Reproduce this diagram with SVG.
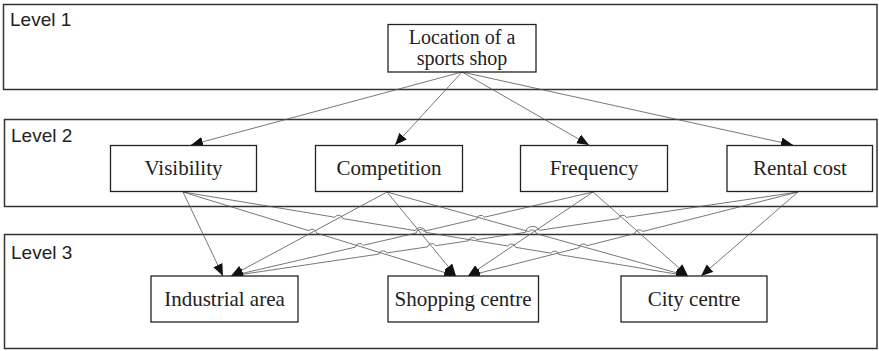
<svg xmlns="http://www.w3.org/2000/svg" width="879" height="351" viewBox="0 0 879 351">
<style>
.band{fill:#fff;stroke:#333;stroke-width:1.5}
.lvl{font-family:"Liberation Sans",Arial,sans-serif;font-size:19px;fill:#222}
.box{fill:#fff;stroke:#222;stroke-width:1.3}
.t{font-family:"Liberation Serif","Times New Roman",serif;font-size:21px;fill:#222;text-anchor:middle}
.t2{font-family:"Liberation Serif","Times New Roman",serif;font-size:20px;fill:#222;text-anchor:middle}
.c{fill:none;stroke:#555;stroke-width:0.8;marker-end:url(#ah)}
</style>
<defs>
<marker id="ah" markerUnits="userSpaceOnUse" markerWidth="12" markerHeight="10" refX="12" refY="5" orient="auto">
<path d="M0,0 L12,5 L0,10 z" fill="#111"/>
</marker>
</defs>
<g id="bands">
<g id="level1"><rect class="band" x="3.5" y="4.5" width="873.5" height="85"/><text class="lvl" x="10" y="26">Level 1</text></g>
<g id="level2"><rect class="band" x="4.5" y="119.5" width="872.5" height="87"/><text class="lvl" x="11" y="142">Level 2</text></g>
<g id="level3"><rect class="band" x="4.5" y="234.5" width="872.5" height="114"/><text class="lvl" x="11" y="259">Level 3</text></g>
</g>
<g id="connectors">
<path class="c" d="M462,72 L191,145"/>
<path class="c" d="M462,72 L395,145"/>
<path class="c" d="M462,72 L589,145"/>
<path class="c" d="M462,72 L793,145"/>
<path class="c" d="M183,192 L223,276"/>
<path class="c" d="M183,192 L308.98,230.72 A4.3,4.3 0 0 1 316.62,233.08 L456,276"/>
<path class="c" d="M183,192 L334.95,217.27 A4.3,4.3 0 0 1 342.85,218.59 L415.3,230.64 A5.6,5.6 0 0 1 425.8,232.39 L507.75,246.02 A4.3,4.3 0 0 1 515.65,247.34 L550.95,253.2 A4.3,4.3 0 0 1 558.85,254.52 L688,276"/>
<path class="c" d="M387,192 L231,276"/>
<path class="c" d="M387,192 L456,276"/>
<path class="c" d="M387,192 L528.75,231.55 A4.3,4.3 0 0 1 536.45,233.71 L688,276"/>
<path class="c" d="M593,192 L484.4,217.2 A4.3,4.3 0 0 0 476.6,219 L423.9,231.24 A4.3,4.3 0 0 0 416.1,233.04 L363.2,245.33 A4.3,4.3 0 0 0 355.4,247.13 L231,276"/>
<path class="c" d="M593,192 L468,276"/>
<path class="c" d="M593,192 L688,276"/>
<path class="c" d="M798,192 L626.36,217.42 A4.3,4.3 0 0 0 618.44,218.6 L539,230.37 A7.2,7.2 0 0 0 525.5,232.37 L476.66,239.6 A4.3,4.3 0 0 0 468.74,240.78 L435.56,245.69 A4.3,4.3 0 0 0 427.64,246.87 L386.86,252.91 A4.3,4.3 0 0 0 378.94,254.09 L231,276"/>
<path class="c" d="M798,192 L642.68,231.53 A4.3,4.3 0 0 0 634.92,233.51 L586.88,245.74 A4.3,4.3 0 0 0 579.12,247.72 L468,276"/>
<path class="c" d="M798,192 L701,276"/>
</g>
<g id="location"><rect class="box" x="388" y="24.5" width="148" height="47.5"/><text class="t2" x="462" y="43.5">Location of a</text><text class="t2" x="462" y="65">sports shop</text></g>
<g id="visibility"><rect class="box" x="110.5" y="145.5" width="146" height="46"/><text class="t" x="183.5" y="175">Visibility</text></g>
<g id="competition"><rect class="box" x="315.5" y="145.5" width="147" height="46"/><text class="t" x="389" y="175">Competition</text></g>
<g id="frequency"><rect class="box" x="520.5" y="145.5" width="147" height="46"/><text class="t" x="594" y="175">Frequency</text></g>
<g id="rental"><rect class="box" x="727" y="145.5" width="145.5" height="46"/><text class="t" x="800" y="175">Rental cost</text></g>
<g id="industrial"><rect class="box" x="151" y="276" width="147" height="46"/><text class="t" x="224.5" y="306">Industrial area</text></g>
<g id="shopping"><rect class="box" x="388" y="276" width="150.5" height="46"/><text class="t" x="463" y="306">Shopping centre</text></g>
<g id="city"><rect class="box" x="621" y="276" width="146" height="46"/><text class="t" x="694" y="306">City centre</text></g>
</svg>
